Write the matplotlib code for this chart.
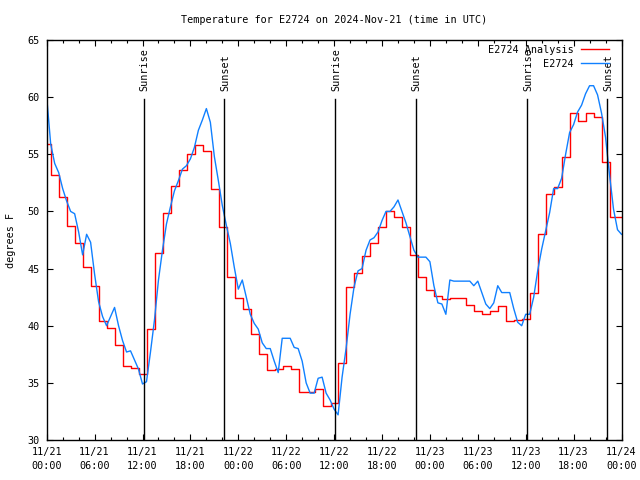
import numpy as np
import matplotlib
matplotlib.use("Agg")
import matplotlib.pyplot as plt
from matplotlib.ticker import MultipleLocator, FixedLocator

# hours since 2024-11-21 00:00 UTC
# analysis: first value, then hourly steps (change about 33 min past the hour)
Analysis_Hours = [0.0] + [h + 0.55 for h in range(72)]
Analysis_Temp = [55.9,
53.2, 51.3, 48.7, 47.2, 45.1, 43.5, 40.4, 39.8, 38.3, 36.5, 36.3, 35.8,
39.7, 46.4, 49.9, 52.2, 53.6, 55.0, 55.8, 55.3, 52.0, 48.6, 44.3, 42.4,
41.5, 39.3, 37.5, 36.1, 36.2, 36.5, 36.2, 34.2, 34.2, 34.5, 33.0, 33.2,
36.7, 43.4, 44.6, 46.1, 47.2, 48.6, 50.0, 49.5, 48.6, 46.2, 44.3, 43.1,
42.6, 42.3, 42.4, 42.4, 41.8, 41.3, 41.0, 41.3, 41.7, 40.4, 40.5, 40.6,
42.9, 48.0, 51.5, 52.1, 54.8, 58.6, 57.9, 58.6, 58.3, 54.3, 49.5, 49.5
]

# station observations every half hour
Obs_Hours = [h * 0.5 for h in range(145)]
Obs_Temp = [60.0, 55.9, 54.2, 53.4, 52.0, 50.9, 50.0, 49.8, 48.2, 46.2,
48.0, 47.3, 44.5, 42.1, 40.8, 40.0, 40.8, 41.6, 40.0, 38.7,
37.7, 37.8, 37.0, 36.2, 34.9, 35.1, 37.7, 40.5, 44.0, 46.6,
48.9, 50.4, 51.8, 52.7, 53.7, 54.0, 54.6, 55.6, 57.1, 58.0,
59.0, 57.8, 54.8, 52.7, 50.5, 48.8, 47.2, 45.1, 43.2, 44.0,
42.5, 41.0, 40.2, 39.7, 38.5, 38.0, 38.0, 36.9, 35.9, 38.9,
38.9, 38.9, 38.1, 38.0, 36.9, 35.0, 34.1, 34.1, 35.4, 35.5,
34.1, 33.5, 32.7, 32.2, 35.5, 38.0, 41.0, 43.4, 44.8, 45.0,
46.6, 47.5, 47.7, 48.2, 49.2, 50.0, 50.0, 50.4, 51.0, 50.0,
49.0, 47.8, 46.6, 46.0, 46.0, 46.0, 45.6, 43.5, 42.0, 41.9,
41.0, 44.0, 43.9, 43.9, 43.9, 43.9, 43.9, 43.5, 43.9, 42.9,
41.9, 41.5, 42.0, 43.5, 42.9, 42.9, 42.9, 41.5, 40.3, 40.0,
41.0, 41.0, 42.5, 44.8, 46.7, 48.3, 49.9, 52.0, 52.0, 52.9,
55.0, 56.9, 57.6, 58.7, 59.3, 60.3, 61.0, 61.0, 60.2, 58.6,
56.5, 53.2, 50.2, 48.4, 48.0
]

Sun_Hours = [12.18, 22.22, 36.17, 46.2, 60.18, 70.22]
Sun_Labels = ["Sunrise", "Sunset", "Sunrise", "Sunset", "Sunrise", "Sunset"]

Tick_Hours = [h * 6 for h in range(13)]
Tick_Labels = ["11/21\n00:00", "11/21\n06:00", "11/21\n12:00", "11/21\n18:00",
               "11/22\n00:00", "11/22\n06:00", "11/22\n12:00", "11/22\n18:00",
               "11/23\n00:00", "11/23\n06:00", "11/23\n12:00", "11/23\n18:00",
               "11/24\n00:00"]

plt.rcParams['font.family'] = ['DejaVu Sans Mono']
fs = 7.3

fig = plt.figure(figsize=(6.4, 4.8), dpi=100)
ax = fig.add_axes([46.7/640, 1-440/480, (621.5-46.7)/640, 400/480])

ax.plot(Analysis_Hours + [72], Analysis_Temp + [Analysis_Temp[-1]], drawstyle="steps-post",
        color="#ff0000", lw=1.0, label="E2724 Analysis")
ax.plot(Obs_Hours, Obs_Temp, color="#1080ff", lw=1.0, label="E2724")

for h, lab in zip(Sun_Hours, Sun_Labels):
    ax.plot([h, h], [30, 59.8], color="black", lw=1.0)
    ax.text(h + 0.1, 60.5, lab, rotation=90, ha="center", va="bottom", fontsize=fs)

ax.set_xlim(0, 72)
ax.set_ylim(30, 65)
ax.xaxis.set_major_locator(FixedLocator(Tick_Hours))
ax.set_xticklabels(Tick_Labels, fontsize=fs, linespacing=1.45)
ax.xaxis.set_minor_locator(MultipleLocator(2))
ax.yaxis.set_major_locator(MultipleLocator(5))
ax.tick_params(axis="both", which="major", direction="in", length=4, width=0.8,
               top=True, right=True, labelsize=fs, pad=5)
ax.tick_params(axis="x", which="minor", direction="in", length=2, width=0.8, top=True)
for s in ax.spines.values():
    s.set_linewidth(1.0)

ax.set_ylabel("degrees F", fontsize=fs, labelpad=8)
ax.set_title("Temperature for E2724 on 2024-Nov-21 (time in UTC)", fontsize=fs, pad=12)

ax.legend(loc="upper right", bbox_to_anchor=(1 - 12.2/574.8, 1 - 5/400), frameon=False,
          markerfirst=False, fontsize=fs, handlelength=2.75, handletextpad=0.75,
          labelspacing=0.35, borderaxespad=0, borderpad=0)

fig.savefig("out.png", dpi=100)
